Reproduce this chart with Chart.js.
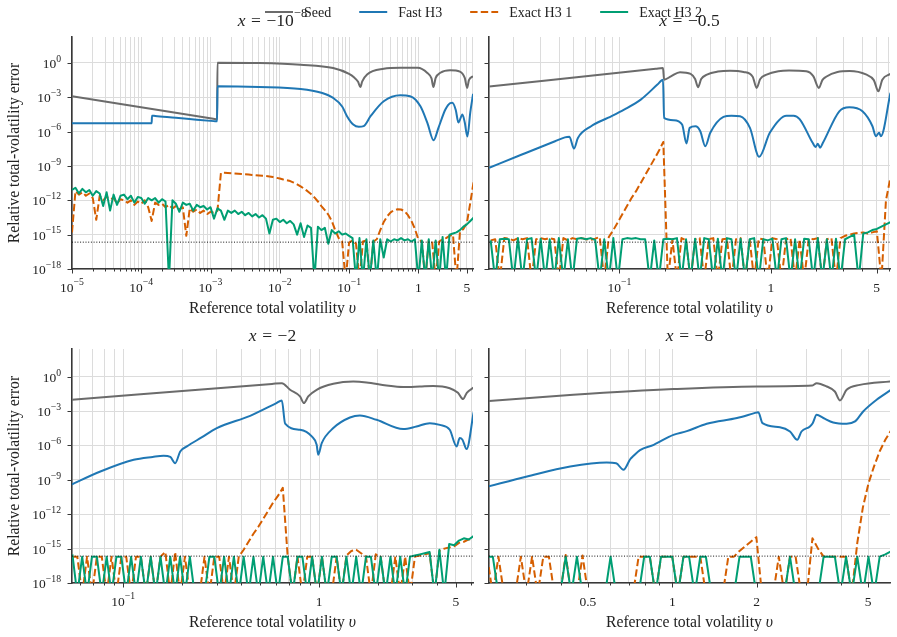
<!DOCTYPE html>
<html>
<head>
<meta charset="utf-8">
<title>Relative total-volatility error</title>
<script src="https://cdn.jsdelivr.net/npm/chart.js@4.4.1/dist/chart.umd.min.js"></script>
<style>
  body { margin: 0; background: #fff; }
  #figure { position: relative; width: 897px; height: 637px; }
  #figure canvas { position: absolute; left: 0; top: 0; }
</style>
</head>
<body>
<div id="figure">
  <canvas id="tl" width="897" height="637"></canvas>
  <canvas id="tr" width="897" height="637"></canvas>
  <canvas id="bl" width="897" height="637"></canvas>
  <canvas id="br" width="897" height="637"></canvas>
</div>
<script>
// values; v and the errors are kept as log10
// -19 marks an exact result (zero error), drawn on the bottom edge

const EPS = 2.22e-16;

const yTicks = [1, 1e-3, 1e-6, 1e-9, 1e-12, 1e-15, 1e-18];
const yTickText = ['10^0', '10^−3', '10^−6', '10^−9', '10^−12', '10^−15', '10^−18'];

// ---- x = -1e-8 ----
const tlXTicks = [1e-5, 1e-4, 1e-3, 1e-2, 1e-1, 1, 5];
const tlXTickText = ['10^−5', '10^−4', '10^−3', '10^−2', '10^−1', '1', '5'];
const tlSeedX = [-5, -2.96, -2.905, -2.9, -2.3, -1.7, -1.23, -1.0, -0.93, -0.87, -0.838, -0.81, -0.74, -0.5, -0.26, -0.01, 0.13, 0.19, 0.217, 0.25, 0.318, 0.46, 0.6, 0.67, 0.704, 0.73, 0.79];
const tlSeedY = [-2.9, -4.867, -4.92, 0.03, 0.0, -0.15, -0.44, -0.95, -1.25, -1.65, -2.1, -1.6, -1.0, -0.5, -0.41, -0.42, -0.87, -1.35, -2.1, -1.3, -0.85, -0.63, -0.75, -1.3, -2.18, -1.5, -1.15];
const tlFastX = [-5, -3.85, -3.845, -3.8, -3.5, -3.2, -2.95, -2.905, -2.9, -2.3, -1.7, -1.4, -1.23, -1.1, -1.03, -0.94, -0.86, -0.79, -0.69, -0.5, -0.26, -0.12, 0.03, 0.13, 0.22, 0.29, 0.39, 0.46, 0.49, 0.54, 0.578, 0.636, 0.67, 0.708, 0.75, 0.79];
const tlFastY = [-5.26, -5.26, -4.6, -4.63, -4.78, -4.95, -5.08, -5.1, -2.04, -2.1, -2.27, -2.6, -3.05, -3.8, -4.65, -5.38, -5.58, -5.52, -4.65, -3.35, -2.82, -2.9, -3.78, -5.23, -6.75, -5.67, -4.07, -3.5, -3.47, -4.1, -5.2, -4.5, -5.2, -6.43, -4.3, -2.7];
const tlGridX = [-5, -4.95, -4.9, -4.85, -4.8, -4.75, -4.7, -4.65, -4.6, -4.55, -4.5, -4.45, -4.4, -4.35, -4.3, -4.25, -4.2, -4.15, -4.1, -4.05,
  -4, -3.95, -3.9, -3.85, -3.8, -3.75, -3.7, -3.65, -3.6, -3.55, -3.5, -3.45, -3.4, -3.35, -3.3, -3.25, -3.2, -3.15, -3.1, -3.05,
  -3, -2.95, -2.9, -2.85, -2.8, -2.75, -2.7, -2.65, -2.6, -2.55, -2.5, -2.45, -2.4, -2.35, -2.3, -2.25, -2.2, -2.15, -2.1, -2.05,
  -2, -1.95, -1.9, -1.85, -1.8, -1.75, -1.7, -1.65, -1.6, -1.55, -1.5, -1.45, -1.4, -1.35, -1.3, -1.25, -1.2, -1.15, -1.1, -1.05,
  -1, -0.95, -0.9, -0.85, -0.8, -0.75, -0.7, -0.65, -0.6, -0.55, -0.5, -0.45, -0.4, -0.35, -0.3, -0.25, -0.2, -0.15, -0.1, -0.05,
  0, 0.05, 0.1, 0.15, 0.2, 0.25, 0.3, 0.35, 0.4, 0.45, 0.5, 0.55, 0.6, 0.65, 0.7, 0.75, 0.8];
const tlExact1 = [-14.8, -11.2, -11.5, -11.3, -11.6, -11.4, -11.8, -13.7, -11.6, -12.0,
  -11.7, -11.9, -11.8, -12.3, -11.9, -12.0, -12.2, -12.0, -12.4, -12.1,
  -12.3, -12.0, -12.6, -13.8, -12.2, -12.4, -12.3, -12.6, -12.4, -12.7,
  -12.5, -12.8, -12.6, -15.1, -12.7, -13.0, -12.8, -13.1, -12.9, -13.2,
  -13.0, -13.1, -12.9, -9.6, -9.6, -9.62, -9.64, -9.66, -9.68, -9.7,
  -9.72, -9.75, -9.78, -9.8, -9.83, -9.86, -9.88, -9.92, -9.97, -10.03,
  -10.1, -10.18, -10.25, -10.32, -10.45, -10.6, -10.78, -10.98, -11.2, -11.45,
  -11.75, -12.1, -12.5, -12.85, -13.25, -13.8, -14.6, -15.3, -15.6, -19,
  -15.7, -15.5, -15.8, -19, -15.6, -15.5, -19, -15.6, -15.4, -14.6,
  -13.9, -13.4, -13.05, -12.85, -12.78, -12.8, -12.95, -13.3, -13.8, -14.5,
  -15.4, -15.6, -19, -15.5, -15.7, -19, -15.6, -15.4, -15.3, -15.1,
  -15.0, -19, -14.8, -14.5, -14.0, -12.2, -10.3];
const tlExact2 = [-11.1, -10.9, -11.4, -11.0, -11.3, -11.1, -11.6, -11.2, -11.4, -12.5,
  -11.3, -12.9, -11.5, -12.4, -11.6, -11.5, -11.9, -11.6, -12.2, -11.7,
  -11.8, -12.3, -11.8, -12.0, -11.8, -12.2, -11.9, -12.1, -19, -12.0,
  -12.3, -13.0, -12.2, -12.4, -12.3, -12.9, -12.4, -12.6, -12.5, -12.8,
  -12.6, -13.6, -12.7, -12.9, -13.7, -12.9, -13.1, -12.9, -13.2, -13.0,
  -13.3, -13.1, -13.4, -13.2, -13.5, -13.3, -13.6, -14.9, -13.7, -13.6,
  -13.9, -13.7, -14.0, -13.8, -14.1, -15.0, -14.0, -15.2, -14.2, -14.4,
  -19, -14.3, -14.6, -14.4, -15.8, -14.6, -14.9, -14.7, -15.0, -14.9,
  -15.1, -15.3, -19, -15.3, -19, -15.4, -19, -15.5, -19, -15.4,
  -17.0, -15.4, -15.6, -15.4, -15.5, -15.3, -15.5, -15.4, -15.6, -15.4,
  -19, -15.5, -19, -15.4, -19, -15.5, -19, -15.2, -19, -15.0,
  -14.9, -14.8, -14.6, -14.3, -14.1, -13.8, -13.5];

// ---- x = -0.5 ----
const trXTicks = [0.1, 1, 5];
const trXTickText = ['10^−1', '1', '5'];
const trSeedX = [-1.86, -0.76, -0.712, -0.705, -0.66, -0.6, -0.53, -0.5, -0.481, -0.46, -0.422, -0.35, -0.27, -0.18, -0.12, -0.094, -0.07, -0.028, 0.05, 0.12, 0.234, 0.28, 0.317, 0.34, 0.365, 0.44, 0.52, 0.628, 0.68, 0.71, 0.736, 0.79];
const trSeedY = [-2.05, -0.507, -0.44, -1.46, -1.17, -0.8, -0.95, -1.4, -2.12, -1.4, -1.02, -0.75, -0.67, -0.78, -1.2, -2.18, -1.4, -1.02, -0.72, -0.66, -0.73, -1.15, -2.18, -1.5, -1.2, -0.78, -0.7, -1.0, -1.5, -2.47, -1.46, -0.95];
const trFastX = [-1.86, -1.644, -1.425, -1.36, -1.33, -1.3, -1.274, -1.187, -1.077, -0.969, -0.859, -0.749, -0.712, -0.705, -0.641, -0.586, -0.557, -0.536, -0.498, -0.466, -0.433, -0.4, -0.313, -0.26, -0.203, -0.138, -0.077, -0.007, 0.103, 0.15, 0.19, 0.277, 0.295, 0.31, 0.325, 0.343, 0.452, 0.518, 0.605, 0.671, 0.693, 0.715, 0.726, 0.79];
const trFastY = [-9.15, -8.0, -6.84, -6.5, -6.45, -7.47, -6.55, -5.53, -4.8, -4.07, -3.2, -1.89, -1.46, -4.8, -5.0, -5.38, -7.04, -5.67, -5.53, -5.96, -7.27, -6.1, -4.71, -4.6, -4.65, -5.67, -8.2, -6.1, -4.6, -4.6, -4.9, -7.0, -7.35, -7.05, -7.4, -7.0, -4.22, -3.87, -4.22, -5.53, -6.4, -6.1, -6.4, -2.6];
const trGridX = [-1.85, -1.82, -1.79, -1.76, -1.73, -1.7, -1.67, -1.64, -1.61, -1.58, -1.55, -1.52, -1.49, -1.46, -1.43, -1.4, -1.37, -1.34, -1.31, -1.28,
  -1.25, -1.22, -1.19, -1.16, -1.13, -1.1, -1.07, -1.04, -1.01, -0.98, -0.95, -0.92, -0.89, -0.86, -0.83, -0.8, -0.77, -0.74, -0.71, -0.68,
  -0.65, -0.62, -0.59, -0.56, -0.53, -0.5, -0.47, -0.44, -0.41, -0.38, -0.35, -0.32, -0.29, -0.26, -0.23, -0.2, -0.17, -0.14, -0.11, -0.08,
  -0.05, -0.02, 0.01, 0.04, 0.07, 0.1, 0.13, 0.16, 0.19, 0.22, 0.25, 0.28, 0.31, 0.34, 0.37, 0.4, 0.43, 0.46, 0.49, 0.52,
  0.55, 0.58, 0.61, 0.64, 0.67, 0.7, 0.73, 0.76, 0.79];
const trExact1 = [-15.5, -15.4, -19, -15.3, -15.35, -15.5, -15.3, -15.4, -15.3, -19,
  -15.4, -15.3, -15.4, -15.3, -15.4, -19, -15.3, -15.5, -15.3, -15.4,
  -15.3, -15.4, -15.45, -15.35, -15.2, -19, -15.2, -14.6, -13.9, -13.2,
  -12.5, -11.8, -11.2, -10.5, -9.8, -9.1, -8.4, -7.7, -6.9, -19,
  -15.4, -19, -15.3, -15.5, -19, -15.4, -15.3, -19, -15.4, -15.3,
  -19, -15.4, -15.35, -19, -15.4, -15.3, -19, -15.4, -19, -15.35,
  -15.4, -19, -15.3, -15.4, -19, -15.4, -15.3, -19, -15.4, -19,
  -15.35, -15.4, -15.3, -19, -15.4, -15.3, -19, -15.3, -15.1, -15.0,
  -14.9, -14.85, -14.8, -14.9, -14.8, -14.7, -19, -12.0, -10.0];
const trExact2 = [-15.5, -19, -15.4, -15.35, -15.4, -19, -15.3, -19, -15.4, -15.3,
  -19, -15.35, -19, -15.4, -19, -15.3, -19, -15.4, -19, -15.35,
  -15.3, -15.4, -15.3, -15.45, -19, -15.4, -19, -15.3, -19, -15.4,
  -15.3, -15.35, -15.3, -15.4, -15.4, -19, -15.5, -19, -15.4, -15.35,
  -15.4, -15.3, -19, -15.4, -19, -15.35, -19, -15.3, -15.4, -19,
  -15.35, -19, -15.3, -15.4, -19, -15.35, -19, -15.4, -15.3, -19,
  -15.4, -15.5, -15.35, -19, -15.4, -15.3, -19, -15.4, -19, -15.35,
  -15.4, -19, -15.3, -19, -15.4, -19, -15.35, -19, -15.4, -15.2,
  -15.0, -19, -14.9, -14.8, -14.6, -14.5, -14.3, -14.1, -13.9];

// ---- x = -2 ----
const blXTicks = [0.1, 1, 5];
const blXTickText = ['10^−1', '1', '5'];
const blSeedX = [-1.27, -0.24, -0.19, -0.148, -0.097, -0.077, -0.055, -0.012, 0.073, 0.175, 0.243, 0.345, 0.43, 0.515, 0.583, 0.668, 0.71, 0.736, 0.755, 0.79];
const blSeedY = [-2.02, -0.628, -0.56, -1.14, -1.72, -2.3, -1.72, -1.14, -0.62, -0.42, -0.5, -0.77, -0.9, -0.85, -0.8, -1.0, -1.4, -1.95, -1.4, -0.95];
const blFastX = [-1.27, -1.117, -0.947, -0.85, -0.794, -0.76, -0.735, -0.709, -0.675, -0.6, -0.522, -0.352, -0.22, -0.19, -0.173, -0.097, -0.037, -0.012, -0.004, 0.014, 0.073, 0.158, 0.209, 0.294, 0.43, 0.498, 0.566, 0.617, 0.668, 0.703, 0.719, 0.733, 0.754, 0.79];
const blFastY = [-9.45, -8.27, -7.25, -7.0, -6.9, -7.0, -7.54, -6.52, -6.08, -5.3, -4.48, -3.41, -2.32, -2.07, -4.1, -4.63, -5.21, -5.94, -6.81, -5.79, -4.48, -3.56, -3.38, -3.76, -4.57, -4.34, -4.05, -4.2, -4.63, -6.08, -5.35, -5.5, -6.31, -3.1];
const blGridX = [-1.26, -1.235, -1.21, -1.185, -1.16, -1.135, -1.11, -1.085, -1.06, -1.035, -1.01, -0.985, -0.96, -0.935, -0.91, -0.885, -0.86, -0.835, -0.81, -0.785,
  -0.76, -0.735, -0.71, -0.685, -0.66, -0.635, -0.61, -0.585, -0.56, -0.535, -0.51, -0.485, -0.46, -0.435, -0.41, -0.385, -0.36, -0.335, -0.31, -0.285,
  -0.26, -0.235, -0.21, -0.185, -0.16, -0.135, -0.11, -0.085, -0.06, -0.035, -0.01, 0.015, 0.04, 0.065, 0.09, 0.115, 0.14, 0.165, 0.19, 0.215,
  0.24, 0.265, 0.29, 0.315, 0.34, 0.365, 0.39, 0.415, 0.44, 0.465, 0.49, 0.515, 0.54, 0.565, 0.59, 0.615, 0.64, 0.665, 0.69, 0.715,
  0.74, 0.765, 0.79];
const blExact1 = [-15.7, -15.7, -19, -15.7, -19, -15.7, -15.7, -19, -15.7, -19,
  -15.7, -15.7, -19, -15.7, -15.7, -19, -15.7, -19, -15.7, -15.3,
  -19, -15.3, -19, -15.7, -19, -19, -19, -15.7, -19, -15.7,
  -15.7, -19, -15.7, -19, -15.7, -15.1, -14.4, -13.7, -13.1, -12.4,
  -11.7, -11.0, -10.4, -9.7, -15.7, -19, -15.7, -19, -15.7, -15.7,
  -19, -15.7, -19, -19, -15.7, -19, -15.6, -15.2, -15.1, -15.4,
  -15.7, -19, -15.5, -15.7, -19, -19, -15.7, -19, -15.7, -19,
  -15.7, -15.6, -15.5, -15.4, -19, -15.2, -15.0, -14.9, -14.8, -14.5,
  -14.4, -14.2, -14.1];
const blExact2 = [-15.5, -19, -15.7, -19, -15.7, -15.7, -19, -15.7, -19, -15.7,
  -15.7, -19, -15.7, -19, -15.7, -19, -15.7, -19, -15.7, -19,
  -15.7, -19, -15.7, -19, -15.7, -19, -19, -19, -15.7, -15.7,
  -19, -15.7, -19, -15.7, -19, -15.7, -19, -15.7, -19, -15.7,
  -19, -15.7, -19, -15.7, -15.7, -19, -15.7, -15.7, -19, -15.7,
  -19, -15.7, -19, -15.7, -15.7, -19, -15.7, -19, -15.7, -19,
  -15.7, -15.7, -19, -15.7, -19, -15.7, -19, -15.7, -19, -15.7,
  -15.6, -15.5, -15.4, -15.3, -19, -15.1, -19, -14.6, -14.7, -14.3,
  -14.1, -14.2, -13.9];

// ---- x = -8 ----
const brXTicks = [0.5, 1, 2, 5];
const brXTickText = ['0.5', '1', '2', '5'];
const brSeedX = [-0.66, -0.353, 0.004, 0.301, 0.5, 0.515, 0.551, 0.58, 0.598, 0.622, 0.669, 0.78];
const brSeedY = [-2.12, -1.58, -1.08, -0.85, -0.77, -0.56, -0.85, -1.29, -2.07, -1.14, -0.71, -0.4];
const brFastX = [-0.66, -0.518, -0.364, -0.234, -0.2, -0.174, -0.15, -0.138, -0.115, -0.066, 0.004, 0.052, 0.123, 0.231, 0.29, 0.307, 0.322, 0.384, 0.42, 0.446, 0.461, 0.491, 0.501, 0.515, 0.539, 0.574, 0.622, 0.652, 0.681, 0.729, 0.78];
const brFastY = [-9.6, -8.7, -7.83, -7.48, -7.55, -8.12, -7.2, -6.9, -6.4, -5.94, -5.07, -4.75, -4.1, -3.6, -3.2, -3.09, -4.05, -4.4, -4.78, -5.5, -4.78, -4.34, -4.05, -3.32, -3.6, -3.99, -4.1, -3.9, -3.03, -2.01, -1.15];
const brGridX = [-0.66, -0.64, -0.62, -0.6, -0.58, -0.56, -0.54, -0.52, -0.5, -0.48, -0.46, -0.44, -0.42, -0.4, -0.38, -0.36, -0.34, -0.32, -0.3, -0.28,
  -0.26, -0.24, -0.22, -0.2, -0.18, -0.16, -0.14, -0.12, -0.1, -0.08, -0.06, -0.04, -0.02, 0, 0.02, 0.04, 0.06, 0.08, 0.1, 0.12,
  0.14, 0.16, 0.18, 0.2, 0.22, 0.24, 0.26, 0.28, 0.3, 0.32, 0.34, 0.36, 0.38, 0.4, 0.42, 0.44, 0.46, 0.48, 0.5, 0.52,
  0.54, 0.56, 0.58, 0.6, 0.62, 0.64, 0.66, 0.68, 0.7, 0.72, 0.74, 0.76, 0.78];
const brExact1 = [-15.7, -19, -15.7, -19, -19, -19, -15.7, -19, -15.7, -19,
  -15.7, -15.7, -19, -19, -15.55, -19, -19, -15.6, -19, -19,
  -19, -19, -19, -19, -19, -19, -19, -15.7, -15.7, -15.7,
  -19, -15.7, -15.7, -15.7, -19, -15.7, -15.7, -15.7, -15.7, -19,
  -19, -19, -19, -15.7, -15.7, -15.2, -14.8, -14.4, -14.0, -19,
  -19, -19, -15.7, -19, -15.7, -15.7, -19, -19, -14.1, -15.0,
  -15.7, -15.7, -15.7, -15.7, -15.7, -19, -14.5, -11.4, -9.3, -7.8,
  -6.5, -5.5, -4.7];
const brExact2 = [-15.7, -15.7, -19, -19, -19, -19, -19, -19, -19, -19,
  -19, -19, -19, -19, -15.7, -19, -15.7, -19, -19, -19,
  -19, -19, -15.7, -19, -19, -19, -19, -19, -15.7, -15.7,
  -19, -15.7, -15.7, -15.7, -19, -15.7, -15.7, -19, -15.7, -15.7,
  -19, -19, -19, -19, -19, -15.7, -15.7, -15.7, -19, -19,
  -19, -19, -19, -19, -15.7, -19, -19, -19, -19, -19,
  -15.7, -15.7, -15.7, -19, -15.7, -19, -15.7, -19, -15.7, -19,
  -15.7, -15.5, -15.25];

const FONT = '"Liberation Serif", "DejaVu Serif", serif';
const INK = '#222';
const SPINE = '#383838';
const GRID = '#dcdcdc';
const GRAY = '#6b6b6b', BLUE = '#1f77b4', ORANGE = '#d55e00', GREEN = '#009e73';

// minor grid: 1..9 x 10^e
function logGrid(e0, e1) {
  const out = [];
  for (let e = e0; e <= e1; e++)
    for (let m = 1; m < 10; m++) out.push(Number((m * Math.pow(10, e)).toPrecision(3)));
  return out;
}

function series(xs, ys) {
  return xs.map((v, i) => ({ x: Math.pow(10, v), y: Math.pow(10, ys[i]) }));
}

function parse(s) {
  const p = s.split('^');
  return p.length > 1 ? [{ t: p[0] }, { t: p[1], sup: true }] : [{ t: s }];
}

function drawRuns(ctx, runs, x, y, size, align) {
  const font = r => (r.it ? 'italic ' : '') + (r.sup ? size * 0.72 : size) + 'px ' + FONT;
  let w = 0;
  runs.forEach(r => { ctx.font = font(r); r.w = ctx.measureText(r.t).width + (r.gap || 0); w += r.w; });
  let cx = align === 'center' ? x - w / 2 : align === 'right' ? x - w : x;
  ctx.textAlign = 'left';
  ctx.textBaseline = 'alphabetic';
  runs.forEach(r => {
    ctx.font = font(r);
    ctx.fillText(r.t, cx, r.sup ? y - size * 0.46 : y);
    cx += r.w;
  });
}

const figureText = {
  id: 'figureText',
  afterDraw(chart, args, o) {
    const ctx = chart.ctx, a = chart.chartArea;
    const sx = chart.scales.x, sy = chart.scales.y;
    ctx.save();
    ctx.strokeStyle = SPINE;
    ctx.fillStyle = INK;
    ctx.lineWidth = 1;
    ctx.beginPath();
    sx.ticks.forEach(t => {
      const px = Math.round(sx.getPixelForValue(t.value)) + 0.5;
      const len = o.xTicks.includes(t.value) ? 4.5 : 2.5;
      ctx.moveTo(px, a.bottom);
      ctx.lineTo(px, a.bottom + len);
    });
    sy.ticks.forEach(t => {
      const py = Math.round(sy.getPixelForValue(t.value)) + 0.5;
      ctx.moveTo(a.left, py);
      ctx.lineTo(a.left - 4.5, py);
    });
    ctx.stroke();

    o.xTicks.forEach((v, i) => drawRuns(ctx, parse(o.xTickText[i]), sx.getPixelForValue(v), a.bottom + 22.5, 13.5, 'center'));
    if (o.yLabels) {
      yTicks.forEach((v, i) => drawRuns(ctx, parse(yTickText[i]), a.left - 11, sy.getPixelForValue(v) + 5, 13.5, 'right'));
      ctx.save();
      ctx.translate(18.5, (a.top + a.bottom) / 2);
      ctx.rotate(-Math.PI / 2);
      drawRuns(ctx, [{ t: 'Relative total-volatility error' }], 0, 0, 15.7, 'center');
      ctx.restore();
    }
    drawRuns(ctx, [{ t: 'Reference total volatility ' }, { t: 'υ', it: true }], (a.left + a.right) / 2, a.bottom + 43.5, 15.7, 'center');
    drawRuns(ctx, [{ t: 'x', it: true, gap: 5.5 }, { t: '=', gap: 5.5 }].concat(parse(o.title)), (a.left + a.right) / 2, o.titleY, 17.5, 'center');

    if (o.legend) {
      let lx = 265;
      chart.data.datasets.slice(0, 4).forEach(d => {
        ctx.strokeStyle = d.borderColor;
        ctx.lineWidth = 2;
        ctx.setLineDash(d.borderDash || []);
        ctx.beginPath();
        ctx.moveTo(lx, 12);
        ctx.lineTo(lx + 28, 12);
        ctx.stroke();
        ctx.setLineDash([]);
        ctx.fillStyle = INK;
        ctx.font = '14px ' + FONT;
        ctx.textAlign = 'left';
        ctx.textBaseline = 'alphabetic';
        ctx.fillText(d.label, lx + 39, 16.5);
        lx += 39 + ctx.measureText(d.label).width + 28;
      });
    }
    ctx.restore();
  }
};

const panels = [
  { id: 'tl', title: '−10^−8', area: [72, 37, 473, 269], xMin: 1e-5, xMax: 6.15, yMax: Math.pow(10, 2.27), xGrid: logGrid(-5, 0),
    xTicks: tlXTicks, xTickText: tlXTickText, yLabels: true, titleY: 25.5,
    seed: [tlSeedX, tlSeedY], fast: [tlFastX, tlFastY], grid: tlGridX, exact1: tlExact1, exact2: tlExact2 },
  { id: 'tr', title: '−0.5', area: [489, 37, 890, 269], xMin: 0.01377, xMax: 6.12, yMax: Math.pow(10, 2.27), xGrid: logGrid(-2, 0),
    xTicks: trXTicks, xTickText: trXTickText, yLabels: false, titleY: 25.5,
    seed: [trSeedX, trSeedY], fast: [trFastX, trFastY], grid: trGridX, exact1: trExact1, exact2: trExact2 },
  { id: 'bl', title: '−2', area: [72, 349, 473, 583], xMin: 0.0547, xMax: 6.12, yMax: Math.pow(10, 2.42), xGrid: logGrid(-2, 0),
    xTicks: blXTicks, xTickText: blXTickText, yLabels: true, titleY: 340.5,
    seed: [blSeedX, blSeedY], fast: [blFastX, blFastY], grid: blGridX, exact1: blExact1, exact2: blExact2 },
  { id: 'br', title: '−8', area: [489, 349, 890, 583], xMin: 0.222, xMax: 5.98, yMax: Math.pow(10, 2.42), xGrid: logGrid(-1, 0),
    xTicks: brXTicks, xTickText: brXTickText, yLabels: false, titleY: 340.5, legend: true,
    seed: [brSeedX, brSeedY], fast: [brFastX, brFastY], grid: brGridX, exact1: brExact1, exact2: brExact2 }
];

panels.forEach(p => {
  const line = { pointRadius: 0, borderWidth: 2, tension: 0, borderJoinStyle: 'round', clip: 0, fill: false };
  const smooth = Object.assign({}, line, { cubicInterpolationMode: 'monotone' });
  new Chart(document.getElementById(p.id), {
    type: 'line',
    data: {
      datasets: [
        Object.assign({ label: 'Seed', data: series(p.seed[0], p.seed[1]), borderColor: GRAY, order: 4 }, smooth),
        Object.assign({ label: 'Fast H3', data: series(p.fast[0], p.fast[1]), borderColor: BLUE, order: 3 }, smooth),
        Object.assign({ label: 'Exact H3 1', data: series(p.grid, p.exact1), borderColor: ORANGE, borderDash: [7.4, 3.2], order: 2 }, line),
        Object.assign({ label: 'Exact H3 2', data: series(p.grid, p.exact2), borderColor: GREEN, order: 1 }, line),
        Object.assign({ label: 'eps', data: [{ x: p.xMin, y: EPS }, { x: p.xMax, y: EPS }], borderColor: '#111', order: 0 }, line, { borderWidth: 1, borderDash: [1, 1.7] })
      ]
    },
    options: {
      responsive: false,
      animation: false,
      devicePixelRatio: 1,
      events: [],
      layout: { padding: { left: p.area[0], top: p.area[1], right: 897 - p.area[2], bottom: 637 - p.area[3] } },
      scales: {
        x: {
          type: 'logarithmic', min: p.xMin, max: p.xMax, bounds: 'data',
          ticks: { display: false, autoSkip: false },
          grid: { color: GRID, lineWidth: 1, drawTicks: false },
          border: { display: true, color: SPINE, width: 1.6 },
          afterBuildTicks: s => { s.ticks = p.xGrid.filter(v => v >= p.xMin && v <= p.xMax).map(v => ({ value: v })); },
          afterFit: s => { s.height = 0; }
        },
        y: {
          type: 'logarithmic', min: 1e-18, max: p.yMax, bounds: 'data',
          ticks: { display: false, autoSkip: false },
          grid: { color: GRID, lineWidth: 1, drawTicks: false },
          border: { display: true, color: SPINE, width: 1.6 },
          afterBuildTicks: s => { s.ticks = yTicks.map(v => ({ value: v })); },
          afterFit: s => { s.width = 0; }
        }
      },
      plugins: {
        legend: { display: false },
        tooltip: { enabled: false },
        figureText: p
      }
    },
    plugins: [figureText]
  });
});
</script>
</body>
</html>
